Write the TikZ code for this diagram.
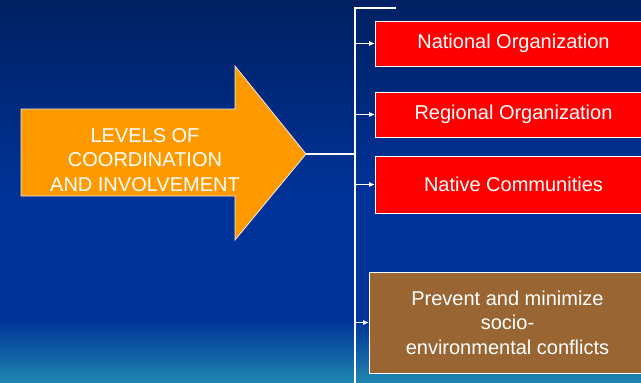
\documentclass[tikz,border=0pt]{standalone}
\usepackage{fontspec}
\setmainfont{Liberation Sans}
\usetikzlibrary{arrows.meta}

\definecolor{navytop}{HTML}{002062}
\definecolor{navymid}{HTML}{003399}
\definecolor{seabot}{HTML}{2088B0}
\definecolor{levelorange}{HTML}{FF9900}
\definecolor{goalbrown}{HTML}{996633}

\begin{document}
\begin{tikzpicture}[
    x=1pt, y=-1pt,
    font=\fontsize{20}{24.5}\selectfont,
    every node/.style = {
      text=white,
      align=center
    },
    levelbox/.style = {
      shape=rectangle,
      anchor=west,
      fill=red,
      draw=white,
      line width=1pt,
      minimum width=276pt
    },
    feed/.style = {
      draw=white,
      line width=1pt,
      -{Latex[length=6pt,width=5pt]}
    },
    trunkline/.style = {draw=white, line width=2pt}
    ]

    % background
    \useasboundingbox (0,0) rectangle (641,383);
    \clip (0,0) rectangle (641,383);
    \shade[top color=navytop, bottom color=navymid] (0,0) rectangle (641,200);
    \fill[navymid] (0,199) rectangle (641,321);
    \shade[top color=navymid, bottom color=seabot] (0,320) rectangle (641,384);

    % big arrow
    \filldraw[fill=levelorange, draw=white!85!gray, line width=.8pt]
      (21,109) -- (235,109) -- (235,66) -- (306,154) -- (235,240)
      -- (235,196) -- (21,196) -- cycle;
    \coordinate (tip) at (306,154);
    \node (levels) at (145,160) {LEVELS OF\\COORDINATION\\AND INVOLVEMENT};

    % trunk
    \coordinate (trunk) at (355,154);
    \coordinate (trunktop) at (355,8);
    \coordinate (trunkbot) at (355,390);
    \coordinate (stub) at (396,8);
    \draw[trunkline] (tip) -- (trunk);
    \draw[trunkline] (stub) -- (trunktop) -- (trunkbot);

    % levels
    \node[levelbox, minimum height=45pt] (national) at (375,43.5) {National Organization};
    \node[levelbox, minimum height=45pt] (regional) at (375,114.5) {Regional Organization};
    \node[levelbox, minimum height=57pt] (native) at (375,184.5) {Native Communities};
    \node[levelbox, fill=goalbrown, minimum height=101pt] (conflicts) at (369,322.5)
      {Prevent and minimize\\socio-\\environmental conflicts};

    \draw[feed] (trunk |- national.west) -- (national.west);
    \draw[feed] (trunk |- regional.west) -- (regional.west);
    \draw[feed] (trunk |- native.west) -- (native.west);
    \draw[feed] (trunk |- conflicts.west) -- (conflicts.west);

\end{tikzpicture}
\end{document}
